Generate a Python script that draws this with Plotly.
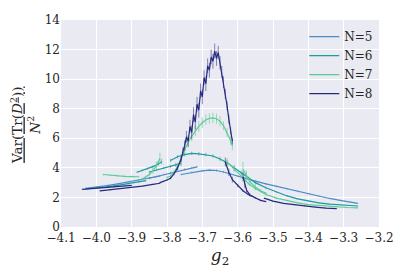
import plotly.graph_objects as go

# ---------------- data ----------------
series_names = ["N=5", "N=6", "N=7", "N=8"]
series_colors = ["#4a8cc6", "#1c9a9c", "#5ccc93", "#262a7e"]
series_err_colors = ["rgba(74,140,198,0.55)", "rgba(28,154,156,0.55)",
                     "rgba(92,204,147,0.6)", "rgba(38,42,126,0.55)"]

# N=5
n5_a_g = [-4.03, -4.00, -3.97, -3.94, -3.91, -3.88, -3.85, -3.82]
n5_a_v = [2.62, 2.70, 2.80, 2.92, 3.04, 3.17, 3.30, 3.45]
n5_a_e = [0.04, 0.04, 0.05, 0.05, 0.05, 0.06, 0.06, 0.06]
n5_b_g = [-3.85, -3.83, -3.81, -3.79, -3.77, -3.75, -3.73, -3.715]
n5_b_v = [3.30, 3.42, 3.55, 3.67, 3.79, 3.90, 4.00, 4.07]
n5_b_e = [0.06, 0.06, 0.06, 0.07, 0.07, 0.07, 0.07, 0.07]
n5_c_g = [-3.76, -3.73, -3.70, -3.68, -3.66, -3.64, -3.62, -3.60, -3.58, -3.55,
          -3.52, -3.49, -3.46, -3.43, -3.40, -3.37, -3.34, -3.31, -3.28, -3.26]
n5_c_v = [3.55, 3.70, 3.80, 3.85, 3.82, 3.72, 3.58, 3.42, 3.28, 3.10,
          2.92, 2.75, 2.58, 2.40, 2.22, 2.07, 1.93, 1.80, 1.68, 1.60]
n5_c_e = [0.07, 0.07, 0.08, 0.08, 0.08, 0.08, 0.08, 0.07, 0.07, 0.06,
          0.06, 0.05, 0.05, 0.05, 0.04, 0.04, 0.04, 0.04, 0.03, 0.03]

# N=6
n6_a_g = [-4.03, -4.00, -3.97, -3.94, -3.91, -3.88, -3.86]
n6_a_v = [2.58, 2.64, 2.72, 2.82, 2.93, 3.05, 3.14]
n6_a_e = [0.04, 0.04, 0.04, 0.05, 0.05, 0.05, 0.06]
n6_b_g = [-3.885, -3.87, -3.855, -3.84, -3.825, -3.815]
n6_b_v = [3.70, 3.82, 3.95, 4.08, 4.25, 4.42]
n6_b_e = [0.05, 0.06, 0.08, 0.10, 0.14, 0.18]
n6_c_g = [-3.85, -3.83, -3.81, -3.79, -3.775, -3.76]
n6_c_v = [3.72, 3.85, 3.98, 4.10, 4.20, 4.30]
n6_c_e = [0.05, 0.06, 0.07, 0.10, 0.15, 0.20]
n6_d_g = [-3.79, -3.77, -3.75, -3.73, -3.71, -3.69, -3.67, -3.65, -3.63, -3.61, -3.59,
          -3.57, -3.55, -3.52, -3.49, -3.46, -3.43, -3.40, -3.37, -3.34, -3.30, -3.26]
n6_d_v = [4.50, 4.75, 4.90, 4.98, 4.95, 4.90, 4.80, 4.60, 4.35, 4.00, 3.65,
          3.30, 3.00, 2.65, 2.35, 2.10, 1.90, 1.75, 1.63, 1.55, 1.47, 1.42]
n6_d_e = [0.12, 0.12, 0.12, 0.12, 0.12, 0.12, 0.12, 0.15, 0.2, 0.2, 0.15,
          0.12, 0.1, 0.08, 0.06, 0.05, 0.05, 0.04, 0.04, 0.03, 0.03, 0.03]

# N=7
n7_a_g = [-3.98, -3.96, -3.94, -3.92, -3.90, -3.88]
n7_a_v = [3.55, 3.50, 3.46, 3.43, 3.41, 3.40]
n7_a_e = [0.07, 0.07, 0.07, 0.07, 0.07, 0.07]
n7_b_g = [-3.87, -3.86, -3.85, -3.84, -3.83, -3.82]
n7_b_v = [3.25, 3.38, 3.55, 3.80, 4.15, 4.65]
n7_b_e = [0.08, 0.10, 0.14, 0.20, 0.28, 0.38]
n7_c_g = [-3.80, -3.79, -3.78, -3.77, -3.76, -3.75, -3.74, -3.73, -3.72, -3.71,
          -3.70, -3.69, -3.68, -3.67, -3.66, -3.65, -3.64, -3.63, -3.62, -3.615]
n7_c_v = [3.35, 3.45, 3.70, 4.10, 4.65, 5.25, 5.75, 6.15, 6.50, 6.80,
          7.05, 7.25, 7.35, 7.38, 7.32, 7.15, 6.85, 6.40, 5.85, 5.50]
n7_c_e = [0.10, 0.12, 0.15, 0.20, 0.25, 0.30, 0.30, 0.35, 0.35, 0.35,
          0.35, 0.35, 0.35, 0.35, 0.35, 0.35, 0.30, 0.30, 0.30, 0.30]
n7_d_g = [-3.585, -3.575, -3.565, -3.55, -3.535, -3.52]
n7_d_v = [3.90, 3.45, 3.05, 2.70, 2.45, 2.28]
n7_d_e = [0.50, 0.40, 0.30, 0.20, 0.12, 0.08]
n7_e_g = [-3.63, -3.61, -3.59, -3.57, -3.55, -3.52, -3.49, -3.46, -3.43, -3.40,
          -3.36, -3.32, -3.29, -3.26]
n7_e_v = [4.40, 3.90, 3.40, 2.95, 2.60, 2.20, 1.95, 1.78, 1.63, 1.52,
          1.43, 1.36, 1.32, 1.29]
n7_e_e = [0.25, 0.20, 0.15, 0.12, 0.10, 0.08, 0.06, 0.05, 0.04, 0.04,
          0.03, 0.03, 0.03, 0.03]

# N=8
n8_a_g = [-4.04, -4.01, -3.98, -3.95, -3.92, -3.90]
n8_a_v = [2.55, 2.60, 2.66, 2.72, 2.78, 2.82]
n8_a_e = [0.03, 0.03, 0.03, 0.03, 0.03, 0.03]
n8_b_g = [-3.99, -3.96, -3.93, -3.90, -3.87, -3.84, -3.82]
n8_b_v = [2.45, 2.52, 2.60, 2.68, 2.77, 2.88, 2.96]
n8_b_e = [0.03, 0.03, 0.03, 0.03, 0.03, 0.04, 0.04]
n8_c_g = [-3.82, -3.81, -3.80, -3.79, -3.78, -3.77, -3.76, -3.755, -3.75, -3.745,
          -3.74, -3.735, -3.73, -3.725, -3.72, -3.715, -3.71, -3.705, -3.70, -3.695,
          -3.69, -3.685, -3.68, -3.675, -3.67, -3.665, -3.66, -3.655, -3.65, -3.645,
          -3.64, -3.635, -3.63, -3.625, -3.62, -3.615]
n8_c_v = [3.00, 3.08, 3.18, 3.30, 3.60, 4.00, 4.60, 5.10, 5.50, 6.10,
          5.80, 6.80, 6.40, 7.60, 7.10, 8.30, 7.90, 9.20, 8.80, 10.10,
          9.70, 10.90, 10.60, 11.50, 11.20, 11.90, 11.40, 11.80, 11.10, 10.50,
          9.80, 9.00, 8.20, 7.30, 6.50, 5.80]
n8_c_e = [0.05, 0.05, 0.06, 0.08, 0.10, 0.15, 0.20, 0.30, 0.35, 0.40,
          0.40, 0.45, 0.45, 0.50, 0.50, 0.50, 0.50, 0.50, 0.50, 0.50,
          0.50, 0.50, 0.50, 0.50, 0.50, 0.50, 0.50, 0.45, 0.45, 0.40,
          0.40, 0.35, 0.30, 0.30, 0.25, 0.20]
n8_d_g = [-3.635, -3.625, -3.615, -3.60, -3.585, -3.57, -3.555]
n8_d_v = [4.40, 3.70, 3.20, 2.80, 2.45, 2.20, 2.05]
n8_d_e = [0.30, 0.25, 0.20, 0.12, 0.08, 0.05, 0.04]
n8_e_g = [-3.585, -3.58, -3.575, -3.565, -3.55, -3.535, -3.52]
n8_e_v = [3.40, 2.90, 2.50, 2.15, 1.95, 1.80, 1.72]
n8_e_e = [0.30, 0.25, 0.15, 0.10, 0.06, 0.05, 0.04]
n8_f_g = [-3.525, -3.50, -3.47, -3.44, -3.41, -3.38, -3.35, -3.32]
n8_f_v = [1.95, 1.75, 1.60, 1.50, 1.42, 1.35, 1.28, 1.24]
n8_f_e = [0.03, 0.03, 0.03, 0.03, 0.03, 0.03, 0.03, 0.03]

x_ticks = [-4.1, -4.0, -3.9, -3.8, -3.7, -3.6, -3.5, -3.4, -3.3, -3.2]
y_ticks = [0, 2, 4, 6, 8, 10, 12, 14]

segments = [
    [(n5_a_g, n5_a_v, n5_a_e), (n5_b_g, n5_b_v, n5_b_e), (n5_c_g, n5_c_v, n5_c_e)],
    [(n6_a_g, n6_a_v, n6_a_e), (n6_b_g, n6_b_v, n6_b_e), (n6_c_g, n6_c_v, n6_c_e),
     (n6_d_g, n6_d_v, n6_d_e)],
    [(n7_a_g, n7_a_v, n7_a_e), (n7_b_g, n7_b_v, n7_b_e), (n7_c_g, n7_c_v, n7_c_e),
     (n7_d_g, n7_d_v, n7_d_e), (n7_e_g, n7_e_v, n7_e_e)],
    [(n8_a_g, n8_a_v, n8_a_e), (n8_b_g, n8_b_v, n8_b_e), (n8_c_g, n8_c_v, n8_c_e),
     (n8_d_g, n8_d_v, n8_d_e), (n8_e_g, n8_e_v, n8_e_e), (n8_f_g, n8_f_v, n8_f_e)],
]

FONT = "DejaVu Serif"

fig = go.Figure()
for i, segs in enumerate(segments):
    for j, (g, v, e) in enumerate(segs):
        fig.add_trace(go.Scatter(
            x=g, y=v, mode="lines",
            name=series_names[i], legendgroup=series_names[i],
            showlegend=(j == 0),
            line=dict(color=series_colors[i], width=1.2),
            error_y=dict(type="data", array=e, visible=True,
                         color=series_err_colors[i], thickness=1, width=0),
        ))

# the page body adds an 8px offset; margins compensate so the plot area sits
# at x 61..379, y 20..227 in the window
fig.update_layout(
    width=407, height=280,
    margin=dict(l=53, r=36, t=12, b=61, autoexpand=False),
    paper_bgcolor="white",
    plot_bgcolor="#eaeaf2",
    font=dict(family=FONT, size=12, color="#262626"),
    showlegend=True,
    legend=dict(x=0.765, y=0.99, xanchor="left", yanchor="top",
                bgcolor="rgba(0,0,0,0)", font=dict(family=FONT, size=12),
                tracegroupgap=0, itemwidth=30),
    xaxis=dict(range=[-4.1, -3.2], tickvals=x_ticks, tickformat=".1f",
               showgrid=True, gridcolor="white", gridwidth=1.2,
               zeroline=False, showline=False, ticks="", ticklabelstandoff=2,
               title=dict(text="<i>g</i><sub>2</sub>", font=dict(family=FONT, size=17),
                          standoff=2)),
    yaxis=dict(range=[0, 14], tickvals=y_ticks,
               showgrid=True, gridcolor="white", gridwidth=1.2,
               zeroline=False, showline=False, ticks=""),
    annotations=[dict(
        text="<u>Var(Tr(<i>D</i><sup>2</sup>))</u><br><i>N</i><sup>2</sup>",
        xref="paper", yref="paper", x=-0.112, y=0.49, xanchor="center", yanchor="middle",
        textangle=-90, showarrow=False, font=dict(family=FONT, size=13.5, color="#262626"),
    )],
)

fig.write_html("out.html")
